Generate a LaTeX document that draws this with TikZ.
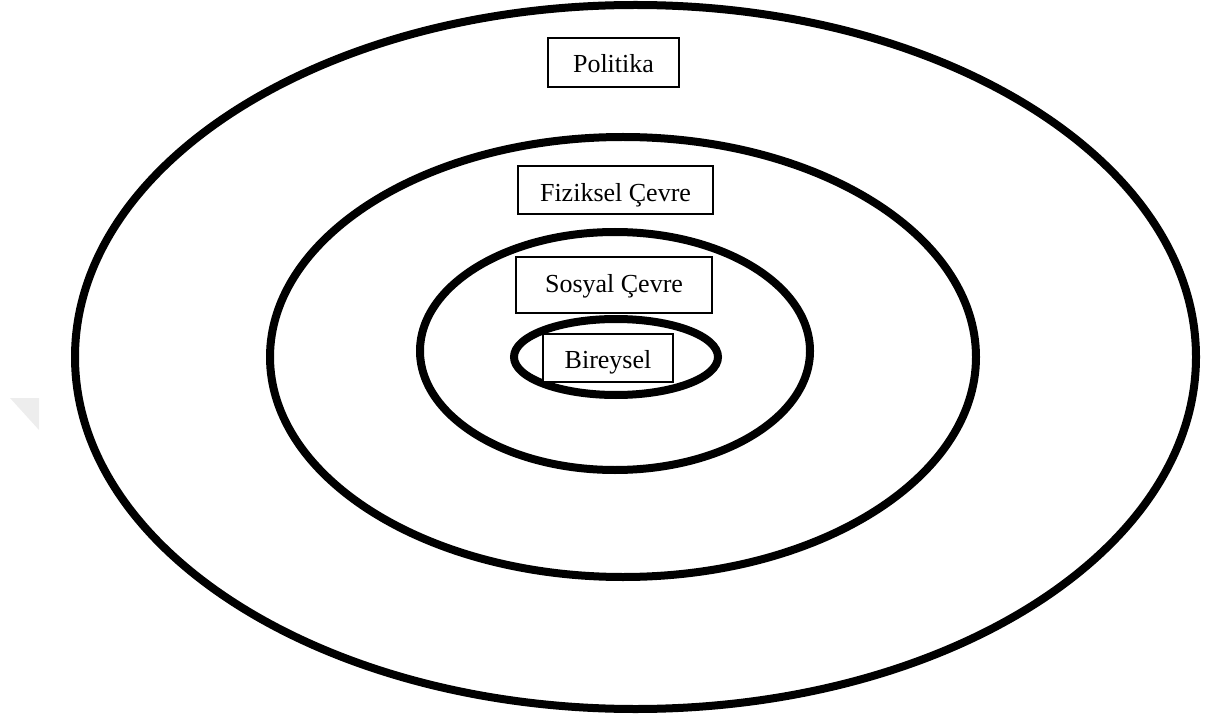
\documentclass[tikz,border=0pt]{standalone}
\usepackage{fontspec}
\setmainfont{Liberation Serif}
\begin{document}
\begin{tikzpicture}[x=1pt,y=-1pt,
  ring/.style={draw=black,line width=8pt},
  label box/.style={draw=black,line width=1.3pt,fill=white,rectangle,inner sep=0pt,
    font=\fontsize{26}{30}\selectfont,text depth=0pt,anchor=center}]
\useasboundingbox (0,0) rectangle (1207,719);
% faint watermark triangle
\fill[black!7] (10,398) -- (39,398) -- (39,430) -- cycle;
% rings
\draw[ring] (635.5,357) ellipse [x radius=560.5, y radius=352];
\draw[ring] (623,357) ellipse [x radius=353, y radius=220];
\draw[ring] (615,351) ellipse [x radius=195, y radius=119];
\draw[ring] (616,357) ellipse [x radius=102, y radius=38];
% labels
\node[label box,minimum width=131pt,minimum height=49pt,text height=21pt] (politika) at (613.5,62.5) {Politika};
\node[label box,minimum width=195pt,minimum height=48pt,text height=23pt] (fiziksel) at (615.5,190) {Fiziksel Çevre};
\node[label box,minimum width=196pt,minimum height=56pt,text height=15pt] (sosyal) at (614,285) {Sosyal Çevre};
\node[label box,minimum width=130pt,minimum height=48pt,text height=20pt] (bireysel) at (608,358) {Bireysel};
\end{tikzpicture}
\end{document}
